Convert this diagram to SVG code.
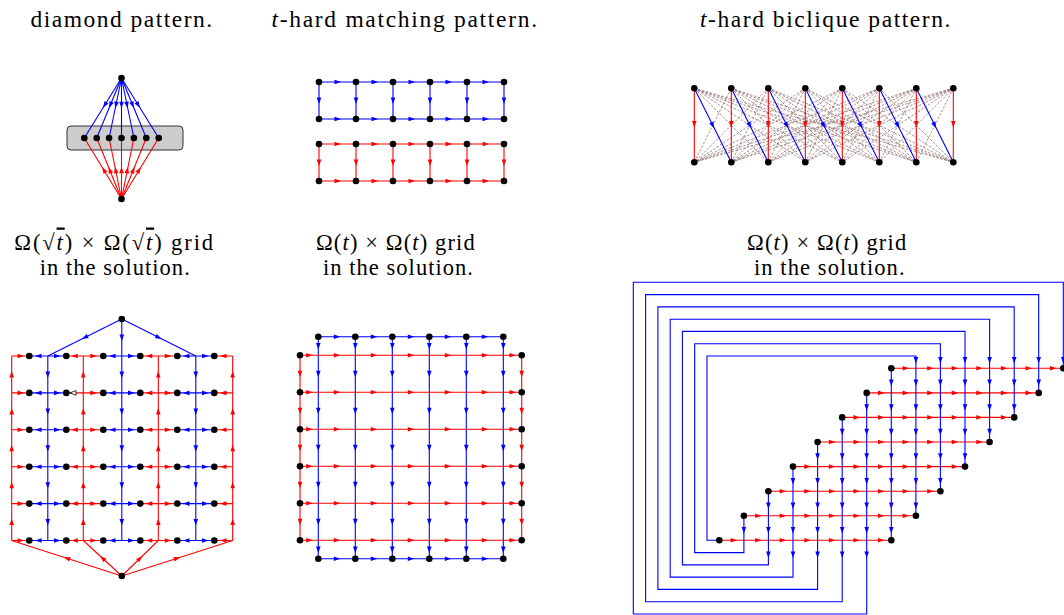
<svg xmlns="http://www.w3.org/2000/svg" width="1064" height="615" viewBox="0 0 1064 615">
<style>
.t{font-family:"Liberation Serif","Times New Roman",serif;font-size:23.5px;fill:#000}
.s{font-size:22.5px}
.i{font-style:italic}
.b{stroke:#0000ff;stroke-width:1.1;fill:none}
.r{stroke:#ff0000;stroke-width:1.1;fill:none}
.d{stroke:#86625f;stroke-opacity:.7;stroke-width:1;stroke-dasharray:2.5 1.5;fill:none}
.mb{marker-mid:url(#mb)}
.mr{marker-mid:url(#mr)}
circle{fill:#000}
</style>
<defs>
<path id="R" d="M-3,-2.3L3.5,0L-3,2.3z"/>
<path id="L" d="M3,-2.3L-3.5,0L3,2.3z"/>
<path id="D" d="M-2.3,-3L0,3.5L2.3,-3z"/>
<path id="U" d="M-2.3,3L0,-3.5L2.3,3z"/>
<marker id="mb" markerUnits="userSpaceOnUse" markerWidth="8" markerHeight="6" refX="3.3" refY="3" orient="auto" overflow="visible"><path d="M0,0.7L6.5,3L0,5.3z" fill="#00f"/></marker>
<marker id="mr" markerUnits="userSpaceOnUse" markerWidth="8" markerHeight="6" refX="3.3" refY="3" orient="auto" overflow="visible"><path d="M0,0.7L6.5,3L0,5.3z" fill="#f00"/></marker>
</defs>
<rect width="1064" height="615" fill="#fff"/>

<g id="labels">
<text class="t" x="30.5" y="27" letter-spacing="1.5">diamond pattern.</text>
<text class="t" x="271.5" y="27" letter-spacing="1.7"><tspan class="i">t</tspan>-hard matching pattern.</text>
<text class="t" x="700" y="27" letter-spacing="1.55"><tspan class="i">t</tspan>-hard biclique pattern.</text>
<text class="t s" x="14.3" y="249.5" letter-spacing="1.9">Ω(√<tspan class="i" text-decoration="overline">t</tspan>) × Ω(√<tspan class="i" text-decoration="overline">t</tspan>) grid</text>
<text class="t s" x="39.8" y="274.5" letter-spacing="1.04">in the solution.</text>
<text class="t s" x="316" y="249.5" letter-spacing="1.13">Ω(<tspan class="i">t</tspan>) × Ω(<tspan class="i">t</tspan>) grid</text>
<text class="t s" x="323" y="274.5" letter-spacing="1.04">in the solution.</text>
<text class="t s" x="747" y="249.5" letter-spacing="1.16">Ω(<tspan class="i">t</tspan>) × Ω(<tspan class="i">t</tspan>) grid</text>
<text class="t s" x="754" y="274.5" letter-spacing="1.08">in the solution.</text>
</g>

<rect id="diamond-box" x="67" y="126" width="116" height="24" rx="4" fill="#cccccc" stroke="#333" stroke-width="1"/>

<g id="connectors">
<!-- diamond -->
<g class="b mb">
<path d="M121.5 78L104.76 105L84.3 138"/>
<path d="M121.5 78L110.34 105L96.7 138"/>
<path d="M121.5 78L115.92 105L109.1 138"/>
<path d="M121.5 78L121.5 105L121.5 138"/>
<path d="M121.5 78L127.08 105L133.9 138"/>
<path d="M121.5 78L132.66 105L146.3 138"/>
<path d="M121.5 78L138.24 105L158.7 138"/>
</g>
<g class="r mr">
<path d="M121.5 199L103.83 170L84.3 138"/>
<path d="M121.5 199L109.72 170L96.7 138"/>
<path d="M121.5 199L115.61 170L109.1 138"/>
<path d="M121.5 199L121.5 170L121.5 138"/>
<path d="M121.5 199L127.39 170L133.9 138"/>
<path d="M121.5 199L133.28 170L146.3 138"/>
<path d="M121.5 199L139.17 170L158.7 138"/>
</g>

<!-- matching -->
<path class="b" d="M319 82H504M319 119H504M319 82V119M356 82V119M393 82V119M430 82V119M467 82V119M504 82V119"/>
<path class="r" d="M319 144H504M319 181H504M319 144V181M356 144V181M393 144V181M430 144V181M467 144V181M504 144V181"/>
<g fill="#00f">
<use href="#R" x="337.5" y="82"/><use href="#R" x="374.5" y="82"/><use href="#R" x="411.5" y="82"/><use href="#R" x="448.5" y="82"/><use href="#R" x="485.5" y="82"/>
<use href="#R" x="337.5" y="119"/><use href="#R" x="374.5" y="119"/><use href="#R" x="411.5" y="119"/><use href="#R" x="448.5" y="119"/><use href="#R" x="485.5" y="119"/>
<use href="#D" x="319" y="100.5"/><use href="#D" x="356" y="100.5"/><use href="#D" x="393" y="100.5"/><use href="#D" x="430" y="100.5"/><use href="#D" x="467" y="100.5"/><use href="#D" x="504" y="100.5"/>
</g>
<g fill="#f00">
<use href="#R" x="337.5" y="144"/><use href="#R" x="374.5" y="144"/><use href="#R" x="411.5" y="144"/><use href="#R" x="448.5" y="144"/><use href="#R" x="485.5" y="144"/>
<use href="#R" x="337.5" y="181"/><use href="#R" x="374.5" y="181"/><use href="#R" x="411.5" y="181"/><use href="#R" x="448.5" y="181"/><use href="#R" x="485.5" y="181"/>
<use href="#D" x="319" y="162.5"/><use href="#D" x="356" y="162.5"/><use href="#D" x="393" y="162.5"/><use href="#D" x="430" y="162.5"/><use href="#D" x="467" y="162.5"/><use href="#D" x="504" y="162.5"/>
</g>

<!-- biclique -->
<path class="d" d="M694.3 88.3L768.3 162.3M694.3 88.3L805.3 162.3M694.3 88.3L842.3 162.3M694.3 88.3L879.3 162.3M694.3 88.3L916.3 162.3M694.3 88.3L953.3 162.3M731.3 88.3L694.3 162.3M731.3 88.3L805.3 162.3M731.3 88.3L842.3 162.3M731.3 88.3L879.3 162.3M731.3 88.3L916.3 162.3M731.3 88.3L953.3 162.3M768.3 88.3L694.3 162.3M768.3 88.3L731.3 162.3M768.3 88.3L842.3 162.3M768.3 88.3L879.3 162.3M768.3 88.3L916.3 162.3M768.3 88.3L953.3 162.3M805.3 88.3L694.3 162.3M805.3 88.3L731.3 162.3M805.3 88.3L768.3 162.3M805.3 88.3L879.3 162.3M805.3 88.3L916.3 162.3M805.3 88.3L953.3 162.3M842.3 88.3L694.3 162.3M842.3 88.3L731.3 162.3M842.3 88.3L768.3 162.3M842.3 88.3L805.3 162.3M842.3 88.3L916.3 162.3M842.3 88.3L953.3 162.3M879.3 88.3L694.3 162.3M879.3 88.3L731.3 162.3M879.3 88.3L768.3 162.3M879.3 88.3L805.3 162.3M879.3 88.3L842.3 162.3M879.3 88.3L953.3 162.3M916.3 88.3L694.3 162.3M916.3 88.3L731.3 162.3M916.3 88.3L768.3 162.3M916.3 88.3L805.3 162.3M916.3 88.3L842.3 162.3M916.3 88.3L879.3 162.3M953.3 88.3L694.3 162.3M953.3 88.3L731.3 162.3M953.3 88.3L768.3 162.3M953.3 88.3L805.3 162.3M953.3 88.3L842.3 162.3M953.3 88.3L879.3 162.3M953.3 88.3L916.3 162.3"/>
<path class="r" d="M694.3 88.3V162.3M731.3 88.3V162.3M768.3 88.3V162.3M805.3 88.3V162.3M842.3 88.3V162.3M879.3 88.3V162.3M916.3 88.3V162.3M953.3 88.3V162.3"/>
<g fill="#f00">
<use href="#D" x="694.3" y="124"/><use href="#D" x="731.3" y="124"/><use href="#D" x="768.3" y="124"/><use href="#D" x="805.3" y="124"/><use href="#D" x="842.3" y="124"/><use href="#D" x="879.3" y="124"/><use href="#D" x="916.3" y="124"/><use href="#D" x="953.3" y="124"/>
</g>
<g class="b mb">
<path d="M694.3 88.3L712.8 125.3L731.3 162.3"/>
<path d="M731.3 88.3L749.8 125.3L768.3 162.3"/>
<path d="M768.3 88.3L786.8 125.3L805.3 162.3"/>
<path d="M805.3 88.3L823.8 125.3L842.3 162.3"/>
<path d="M842.3 88.3L860.8 125.3L879.3 162.3"/>
<path d="M879.3 88.3L897.8 125.3L916.3 162.3"/>
<path d="M916.3 88.3L934.8 125.3L953.3 162.3"/>
</g>

<!-- sqrt grid -->
<path class="r" d="M11.7 356V540.5M83.3 356V540.5M158.3 356V540.5M232.7 356V540.5
M11.7 356H29.3M66.3 356H103.3M140.3 356H177.3M214.3 356H232.7
M11.7 392.9H29.3M66.3 392.9H103.3M140.3 392.9H177.3M214.3 392.9H232.7
M11.7 429.8H29.3M66.3 429.8H103.3M140.3 429.8H177.3M214.3 429.8H232.7
M11.7 466.7H29.3M66.3 466.7H103.3M140.3 466.7H177.3M214.3 466.7H232.7
M11.7 503.6H29.3M66.3 503.6H103.3M140.3 503.6H177.3M214.3 503.6H232.7
M11.7 540.5H29.3M66.3 540.5H103.3M140.3 540.5H177.3M214.3 540.5H232.7"/>
<path class="b" d="M47.8 356V540.5M121.8 319V540.5M195.8 356V540.5
M29.3 356H66.3M103.3 356H140.3M177.3 356H214.3
M29.3 392.9H66.3M103.3 392.9H140.3M177.3 392.9H214.3
M29.3 429.8H66.3M103.3 429.8H140.3M177.3 429.8H214.3
M29.3 466.7H66.3M103.3 466.7H140.3M177.3 466.7H214.3
M29.3 503.6H66.3M103.3 503.6H140.3M177.3 503.6H214.3
M29.3 540.5H66.3M103.3 540.5H140.3M177.3 540.5H214.3"/>
<g class="b mb">
<path d="M121.8 319L84.8 337.5L47.8 356"/>
<path d="M121.8 319L158.8 337.5L195.8 356"/>
</g>
<g class="r mr">
<path d="M121.8 576L66.75 558.25L11.7 540.5"/>
<path d="M121.8 576L102.55 558.25L83.3 540.5"/>
<path d="M121.8 576L140.05 558.25L158.3 540.5"/>
<path d="M121.8 576L177.25 558.25L232.7 540.5"/>
</g>
<g fill="#f00">
<use href="#R" x="20.5" y="356"/><use href="#R" x="93.3" y="356"/><use href="#R" x="167.8" y="356"/><use href="#L" x="74.8" y="356"/><use href="#L" x="149.3" y="356"/><use href="#L" x="223.5" y="356"/>
<use href="#R" x="20.5" y="392.9"/><use href="#R" x="93.3" y="392.9"/><use href="#R" x="167.8" y="392.9"/><use href="#L" x="149.3" y="392.9"/><use href="#L" x="223.5" y="392.9"/>
<use href="#R" x="20.5" y="429.8"/><use href="#R" x="93.3" y="429.8"/><use href="#R" x="167.8" y="429.8"/><use href="#L" x="74.8" y="429.8"/><use href="#L" x="149.3" y="429.8"/><use href="#L" x="223.5" y="429.8"/>
<use href="#R" x="20.5" y="466.7"/><use href="#R" x="93.3" y="466.7"/><use href="#R" x="167.8" y="466.7"/><use href="#L" x="74.8" y="466.7"/><use href="#L" x="149.3" y="466.7"/><use href="#L" x="223.5" y="466.7"/>
<use href="#R" x="20.5" y="503.6"/><use href="#R" x="93.3" y="503.6"/><use href="#R" x="167.8" y="503.6"/><use href="#L" x="74.8" y="503.6"/><use href="#L" x="149.3" y="503.6"/><use href="#L" x="223.5" y="503.6"/>
<use href="#R" x="20.5" y="540.5"/><use href="#R" x="93.3" y="540.5"/><use href="#R" x="167.8" y="540.5"/><use href="#L" x="74.8" y="540.5"/><use href="#L" x="149.3" y="540.5"/><use href="#L" x="223.5" y="540.5"/>
<use href="#U" x="11.7" y="374.5"/><use href="#U" x="11.7" y="411.4"/><use href="#U" x="11.7" y="448.3"/><use href="#U" x="11.7" y="485.2"/><use href="#U" x="11.7" y="522.1"/>
<use href="#U" x="83.3" y="374.5"/><use href="#U" x="83.3" y="411.4"/><use href="#U" x="83.3" y="448.3"/><use href="#U" x="83.3" y="485.2"/><use href="#U" x="83.3" y="522.1"/>
<use href="#U" x="158.3" y="374.5"/><use href="#U" x="158.3" y="411.4"/><use href="#U" x="158.3" y="448.3"/><use href="#U" x="158.3" y="485.2"/><use href="#U" x="158.3" y="522.1"/>
<use href="#U" x="232.7" y="374.5"/><use href="#U" x="232.7" y="411.4"/><use href="#U" x="232.7" y="448.3"/><use href="#U" x="232.7" y="485.2"/><use href="#U" x="232.7" y="522.1"/>
</g>
<path d="M76 390.6L70 392.9L76 395.2z" fill="#fff" stroke="#000" stroke-width="0.8"/>
<g fill="#00f">
<use href="#L" x="38.5" y="356"/><use href="#L" x="112.5" y="356"/><use href="#L" x="186.5" y="356"/><use href="#R" x="57" y="356"/><use href="#R" x="131" y="356"/><use href="#R" x="205" y="356"/>
<use href="#L" x="38.5" y="392.9"/><use href="#L" x="112.5" y="392.9"/><use href="#L" x="186.5" y="392.9"/><use href="#R" x="57" y="392.9"/><use href="#R" x="131" y="392.9"/><use href="#R" x="205" y="392.9"/>
<use href="#L" x="38.5" y="429.8"/><use href="#L" x="112.5" y="429.8"/><use href="#L" x="186.5" y="429.8"/><use href="#R" x="57" y="429.8"/><use href="#R" x="131" y="429.8"/><use href="#R" x="205" y="429.8"/>
<use href="#L" x="38.5" y="466.7"/><use href="#L" x="112.5" y="466.7"/><use href="#L" x="186.5" y="466.7"/><use href="#R" x="57" y="466.7"/><use href="#R" x="131" y="466.7"/><use href="#R" x="205" y="466.7"/>
<use href="#L" x="38.5" y="503.6"/><use href="#L" x="112.5" y="503.6"/><use href="#L" x="186.5" y="503.6"/><use href="#R" x="57" y="503.6"/><use href="#R" x="131" y="503.6"/><use href="#R" x="205" y="503.6"/>
<use href="#L" x="38.5" y="540.5"/><use href="#L" x="112.5" y="540.5"/><use href="#L" x="186.5" y="540.5"/><use href="#R" x="57" y="540.5"/><use href="#R" x="131" y="540.5"/><use href="#R" x="205" y="540.5"/>
<use href="#D" x="121.8" y="337.5"/>
<use href="#D" x="47.8" y="374.5"/><use href="#D" x="47.8" y="411.4"/><use href="#D" x="47.8" y="448.3"/><use href="#D" x="47.8" y="485.2"/><use href="#D" x="47.8" y="522.1"/>
<use href="#D" x="121.8" y="374.5"/><use href="#D" x="121.8" y="411.4"/><use href="#D" x="121.8" y="448.3"/><use href="#D" x="121.8" y="485.2"/><use href="#D" x="121.8" y="522.1"/>
<use href="#D" x="195.8" y="374.5"/><use href="#D" x="195.8" y="411.4"/><use href="#D" x="195.8" y="448.3"/><use href="#D" x="195.8" y="485.2"/><use href="#D" x="195.8" y="522.1"/>
</g>

<!-- t grid -->
<path class="b" d="M318.3 336.7H503.3M318.3 558.7H503.3M318.3 336.7V558.7M355.3 336.7V558.7M392.3 336.7V558.7M429.3 336.7V558.7M466.3 336.7V558.7M503.3 336.7V558.7"/>
<path class="r" d="M300 355.3H521.7M300 392.3H521.7M300 429.3H521.7M300 466.3H521.7M300 503.3H521.7M300 540.3H521.7M300 355.3V540.3M521.7 355.3V540.3"/>
<g fill="#00f">
<use href="#R" x="336.8" y="336.7"/><use href="#R" x="373.8" y="336.7"/><use href="#R" x="410.8" y="336.7"/><use href="#R" x="447.8" y="336.7"/><use href="#R" x="484.8" y="336.7"/>
<use href="#R" x="336.8" y="558.7"/><use href="#R" x="373.8" y="558.7"/><use href="#R" x="410.8" y="558.7"/><use href="#R" x="447.8" y="558.7"/><use href="#R" x="484.8" y="558.7"/>
<use href="#D" x="318.3" y="346"/><use href="#D" x="318.3" y="373.8"/><use href="#D" x="318.3" y="410.8"/><use href="#D" x="318.3" y="447.8"/><use href="#D" x="318.3" y="484.8"/><use href="#D" x="318.3" y="521.8"/><use href="#D" x="318.3" y="549.5"/>
<use href="#D" x="355.3" y="346"/><use href="#D" x="355.3" y="373.8"/><use href="#D" x="355.3" y="410.8"/><use href="#D" x="355.3" y="447.8"/><use href="#D" x="355.3" y="484.8"/><use href="#D" x="355.3" y="521.8"/><use href="#D" x="355.3" y="549.5"/>
<use href="#D" x="392.3" y="346"/><use href="#D" x="392.3" y="373.8"/><use href="#D" x="392.3" y="410.8"/><use href="#D" x="392.3" y="447.8"/><use href="#D" x="392.3" y="484.8"/><use href="#D" x="392.3" y="521.8"/><use href="#D" x="392.3" y="549.5"/>
<use href="#D" x="429.3" y="346"/><use href="#D" x="429.3" y="373.8"/><use href="#D" x="429.3" y="410.8"/><use href="#D" x="429.3" y="447.8"/><use href="#D" x="429.3" y="484.8"/><use href="#D" x="429.3" y="521.8"/><use href="#D" x="429.3" y="549.5"/>
<use href="#D" x="466.3" y="346"/><use href="#D" x="466.3" y="373.8"/><use href="#D" x="466.3" y="410.8"/><use href="#D" x="466.3" y="447.8"/><use href="#D" x="466.3" y="484.8"/><use href="#D" x="466.3" y="521.8"/><use href="#D" x="466.3" y="549.5"/>
<use href="#D" x="503.3" y="346"/><use href="#D" x="503.3" y="373.8"/><use href="#D" x="503.3" y="410.8"/><use href="#D" x="503.3" y="447.8"/><use href="#D" x="503.3" y="484.8"/><use href="#D" x="503.3" y="521.8"/><use href="#D" x="503.3" y="549.5"/>
</g>
<g fill="#f00">
<use href="#R" x="309.2" y="355.3"/><use href="#R" x="336.8" y="355.3"/><use href="#R" x="373.8" y="355.3"/><use href="#R" x="410.8" y="355.3"/><use href="#R" x="447.8" y="355.3"/><use href="#R" x="484.8" y="355.3"/><use href="#R" x="512.5" y="355.3"/>
<use href="#R" x="309.2" y="392.3"/><use href="#R" x="336.8" y="392.3"/><use href="#R" x="373.8" y="392.3"/><use href="#R" x="410.8" y="392.3"/><use href="#R" x="447.8" y="392.3"/><use href="#R" x="484.8" y="392.3"/><use href="#R" x="512.5" y="392.3"/>
<use href="#R" x="309.2" y="429.3"/><use href="#R" x="336.8" y="429.3"/><use href="#R" x="373.8" y="429.3"/><use href="#R" x="410.8" y="429.3"/><use href="#R" x="447.8" y="429.3"/><use href="#R" x="484.8" y="429.3"/><use href="#R" x="512.5" y="429.3"/>
<use href="#R" x="309.2" y="466.3"/><use href="#R" x="336.8" y="466.3"/><use href="#R" x="373.8" y="466.3"/><use href="#R" x="410.8" y="466.3"/><use href="#R" x="447.8" y="466.3"/><use href="#R" x="484.8" y="466.3"/><use href="#R" x="512.5" y="466.3"/>
<use href="#R" x="309.2" y="503.3"/><use href="#R" x="336.8" y="503.3"/><use href="#R" x="373.8" y="503.3"/><use href="#R" x="410.8" y="503.3"/><use href="#R" x="447.8" y="503.3"/><use href="#R" x="484.8" y="503.3"/><use href="#R" x="512.5" y="503.3"/>
<use href="#R" x="309.2" y="540.3"/><use href="#R" x="336.8" y="540.3"/><use href="#R" x="373.8" y="540.3"/><use href="#R" x="410.8" y="540.3"/><use href="#R" x="447.8" y="540.3"/><use href="#R" x="484.8" y="540.3"/><use href="#R" x="512.5" y="540.3"/>
<use href="#D" x="300" y="373.8"/><use href="#D" x="300" y="410.8"/><use href="#D" x="300" y="447.8"/><use href="#D" x="300" y="484.8"/><use href="#D" x="300" y="521.8"/>
<use href="#D" x="521.7" y="373.8"/><use href="#D" x="521.7" y="410.8"/><use href="#D" x="521.7" y="447.8"/><use href="#D" x="521.7" y="484.8"/><use href="#D" x="521.7" y="521.8"/>
</g>

<!-- staircase -->
<path class="r" d="M891.3 368.3H1063.3M866.7 392.9H1038.7M842.2 417.4H1014.2M817.6 442H989.6M793 466.6H965M768.4 491.2H940.4M743.9 515.7H915.9M719.3 540.3H891.3"/>
<g class="b">
<path d="M719.3 540.3H707V356H915.9V515.7"/>
<path d="M743.9 515.7V552.6H694.7V343.7H940.4V491.2"/>
<path d="M768.4 491.2V564.9H682.4V331.4H965V466.6"/>
<path d="M793 466.6V577.1H670.2V319.2H989.6V442"/>
<path d="M817.6 442V589.4H657.9V306.9H1014.2V417.4"/>
<path d="M842.2 417.4V601.7H645.6V294.6H1038.7V392.9"/>
<path d="M866.7 392.9V614H633.3V282.3H1063.3V368.3"/>
<path d="M891.3 368.3V540.3"/>
</g>
<g fill="#f00">
<use href="#R" x="905.6" y="368.3"/><use href="#R" x="930.2" y="368.3"/><use href="#R" x="954.7" y="368.3"/><use href="#R" x="979.3" y="368.3"/><use href="#R" x="1003.9" y="368.3"/><use href="#R" x="1028.5" y="368.3"/><use href="#R" x="1053" y="368.3"/>
<use href="#R" x="881" y="392.9"/><use href="#R" x="905.6" y="392.9"/><use href="#R" x="930.2" y="392.9"/><use href="#R" x="954.7" y="392.9"/><use href="#R" x="979.3" y="392.9"/><use href="#R" x="1003.9" y="392.9"/><use href="#R" x="1028.5" y="392.9"/>
<use href="#R" x="856.5" y="417.4"/><use href="#R" x="881" y="417.4"/><use href="#R" x="905.6" y="417.4"/><use href="#R" x="930.2" y="417.4"/><use href="#R" x="954.7" y="417.4"/><use href="#R" x="979.3" y="417.4"/><use href="#R" x="1003.9" y="417.4"/>
<use href="#R" x="831.9" y="442"/><use href="#R" x="856.5" y="442"/><use href="#R" x="881" y="442"/><use href="#R" x="905.6" y="442"/><use href="#R" x="930.2" y="442"/><use href="#R" x="954.7" y="442"/><use href="#R" x="979.3" y="442"/>
<use href="#R" x="807.3" y="466.6"/><use href="#R" x="831.9" y="466.6"/><use href="#R" x="856.5" y="466.6"/><use href="#R" x="881" y="466.6"/><use href="#R" x="905.6" y="466.6"/><use href="#R" x="930.2" y="466.6"/><use href="#R" x="954.7" y="466.6"/>
<use href="#R" x="782.7" y="491.2"/><use href="#R" x="807.3" y="491.2"/><use href="#R" x="831.9" y="491.2"/><use href="#R" x="856.5" y="491.2"/><use href="#R" x="881" y="491.2"/><use href="#R" x="905.6" y="491.2"/><use href="#R" x="930.2" y="491.2"/>
<use href="#R" x="758.1" y="515.7"/><use href="#R" x="782.7" y="515.7"/><use href="#R" x="807.3" y="515.7"/><use href="#R" x="831.9" y="515.7"/><use href="#R" x="856.5" y="515.7"/><use href="#R" x="881" y="515.7"/><use href="#R" x="905.6" y="515.7"/>
<use href="#R" x="733.6" y="540.3"/><use href="#R" x="758.1" y="540.3"/><use href="#R" x="782.7" y="540.3"/><use href="#R" x="807.3" y="540.3"/><use href="#R" x="831.9" y="540.3"/><use href="#R" x="856.5" y="540.3"/><use href="#R" x="881" y="540.3"/>
</g>
<g fill="#00f">
<use href="#D" x="743.9" y="530"/>
<use href="#D" x="768.4" y="505.5"/><use href="#D" x="768.4" y="530"/><use href="#D" x="768.4" y="554.6"/>
<use href="#D" x="793" y="480.9"/><use href="#D" x="793" y="505.5"/><use href="#D" x="793" y="530"/><use href="#D" x="793" y="554.6"/>
<use href="#D" x="817.6" y="456.3"/><use href="#D" x="817.6" y="480.9"/><use href="#D" x="817.6" y="505.5"/><use href="#D" x="817.6" y="530"/><use href="#D" x="817.6" y="554.6"/>
<use href="#D" x="842.2" y="431.7"/><use href="#D" x="842.2" y="456.3"/><use href="#D" x="842.2" y="480.9"/><use href="#D" x="842.2" y="505.5"/><use href="#D" x="842.2" y="530"/><use href="#D" x="842.2" y="554.6"/>
<use href="#D" x="866.7" y="407.2"/><use href="#D" x="866.7" y="431.7"/><use href="#D" x="866.7" y="456.3"/><use href="#D" x="866.7" y="480.9"/><use href="#D" x="866.7" y="505.5"/><use href="#D" x="866.7" y="530"/><use href="#D" x="866.7" y="554.6"/>
<use href="#D" x="891.3" y="382.6"/><use href="#D" x="891.3" y="407.2"/><use href="#D" x="891.3" y="431.7"/><use href="#D" x="891.3" y="456.3"/><use href="#D" x="891.3" y="480.9"/><use href="#D" x="891.3" y="505.5"/><use href="#D" x="891.3" y="530"/>
<use href="#D" x="915.9" y="360"/><use href="#D" x="915.9" y="382.6"/><use href="#D" x="915.9" y="407.2"/><use href="#D" x="915.9" y="431.7"/><use href="#D" x="915.9" y="456.3"/><use href="#D" x="915.9" y="480.9"/><use href="#D" x="915.9" y="505.5"/>
<use href="#D" x="940.4" y="360"/><use href="#D" x="940.4" y="382.6"/><use href="#D" x="940.4" y="407.2"/><use href="#D" x="940.4" y="431.7"/><use href="#D" x="940.4" y="456.3"/><use href="#D" x="940.4" y="480.9"/>
<use href="#D" x="965" y="360"/><use href="#D" x="965" y="382.6"/><use href="#D" x="965" y="407.2"/><use href="#D" x="965" y="431.7"/><use href="#D" x="965" y="456.3"/>
<use href="#D" x="989.6" y="360"/><use href="#D" x="989.6" y="382.6"/><use href="#D" x="989.6" y="407.2"/><use href="#D" x="989.6" y="431.7"/>
<use href="#D" x="1014.2" y="360"/><use href="#D" x="1014.2" y="382.6"/><use href="#D" x="1014.2" y="407.2"/>
<use href="#D" x="1038.7" y="360"/><use href="#D" x="1038.7" y="382.6"/>
<use href="#D" x="1063.3" y="360"/>
</g>
</g>

<g id="nodes">
<g id="dia-top"><circle cx="121.5" cy="78" r="3.3"/></g>
<g id="dia-m1"><circle cx="84.3" cy="138" r="3.3"/></g>
<g id="dia-m2"><circle cx="96.7" cy="138" r="3.3"/></g>
<g id="dia-m3"><circle cx="109.1" cy="138" r="3.3"/></g>
<g id="dia-m4"><circle cx="121.5" cy="138" r="3.3"/></g>
<g id="dia-m5"><circle cx="133.9" cy="138" r="3.3"/></g>
<g id="dia-m6"><circle cx="146.3" cy="138" r="3.3"/></g>
<g id="dia-m7"><circle cx="158.7" cy="138" r="3.3"/></g>
<g id="dia-bot"><circle cx="121.5" cy="199" r="3.3"/></g>

<g id="mat-a1"><circle cx="319" cy="82" r="3.3"/></g><g id="mat-a2"><circle cx="356" cy="82" r="3.3"/></g><g id="mat-a3"><circle cx="393" cy="82" r="3.3"/></g><g id="mat-a4"><circle cx="430" cy="82" r="3.3"/></g><g id="mat-a5"><circle cx="467" cy="82" r="3.3"/></g><g id="mat-a6"><circle cx="504" cy="82" r="3.3"/></g>
<g id="mat-b1"><circle cx="319" cy="119" r="3.3"/></g><g id="mat-b2"><circle cx="356" cy="119" r="3.3"/></g><g id="mat-b3"><circle cx="393" cy="119" r="3.3"/></g><g id="mat-b4"><circle cx="430" cy="119" r="3.3"/></g><g id="mat-b5"><circle cx="467" cy="119" r="3.3"/></g><g id="mat-b6"><circle cx="504" cy="119" r="3.3"/></g>
<g id="mat-c1"><circle cx="319" cy="144" r="3.3"/></g><g id="mat-c2"><circle cx="356" cy="144" r="3.3"/></g><g id="mat-c3"><circle cx="393" cy="144" r="3.3"/></g><g id="mat-c4"><circle cx="430" cy="144" r="3.3"/></g><g id="mat-c5"><circle cx="467" cy="144" r="3.3"/></g><g id="mat-c6"><circle cx="504" cy="144" r="3.3"/></g>
<g id="mat-d1"><circle cx="319" cy="181" r="3.3"/></g><g id="mat-d2"><circle cx="356" cy="181" r="3.3"/></g><g id="mat-d3"><circle cx="393" cy="181" r="3.3"/></g><g id="mat-d4"><circle cx="430" cy="181" r="3.3"/></g><g id="mat-d5"><circle cx="467" cy="181" r="3.3"/></g><g id="mat-d6"><circle cx="504" cy="181" r="3.3"/></g>

<g id="bic-t1"><circle cx="694.3" cy="88.3" r="3.3"/></g><g id="bic-t2"><circle cx="731.3" cy="88.3" r="3.3"/></g><g id="bic-t3"><circle cx="768.3" cy="88.3" r="3.3"/></g><g id="bic-t4"><circle cx="805.3" cy="88.3" r="3.3"/></g><g id="bic-t5"><circle cx="842.3" cy="88.3" r="3.3"/></g><g id="bic-t6"><circle cx="879.3" cy="88.3" r="3.3"/></g><g id="bic-t7"><circle cx="916.3" cy="88.3" r="3.3"/></g><g id="bic-t8"><circle cx="953.3" cy="88.3" r="3.3"/></g>
<g id="bic-b1"><circle cx="694.3" cy="162.3" r="3.3"/></g><g id="bic-b2"><circle cx="731.3" cy="162.3" r="3.3"/></g><g id="bic-b3"><circle cx="768.3" cy="162.3" r="3.3"/></g><g id="bic-b4"><circle cx="805.3" cy="162.3" r="3.3"/></g><g id="bic-b5"><circle cx="842.3" cy="162.3" r="3.3"/></g><g id="bic-b6"><circle cx="879.3" cy="162.3" r="3.3"/></g><g id="bic-b7"><circle cx="916.3" cy="162.3" r="3.3"/></g><g id="bic-b8"><circle cx="953.3" cy="162.3" r="3.3"/></g>

<g id="sq-top"><circle cx="121.8" cy="319" r="3.3"/></g>
<g id="sq-bot"><circle cx="121.8" cy="576" r="3.3"/></g>
<g id="sq-1-1"><circle cx="29.3" cy="356" r="3.3"/></g><g id="sq-1-2"><circle cx="66.3" cy="356" r="3.3"/></g><g id="sq-1-3"><circle cx="103.3" cy="356" r="3.3"/></g><g id="sq-1-4"><circle cx="140.3" cy="356" r="3.3"/></g><g id="sq-1-5"><circle cx="177.3" cy="356" r="3.3"/></g><g id="sq-1-6"><circle cx="214.3" cy="356" r="3.3"/></g>
<g id="sq-2-1"><circle cx="29.3" cy="392.9" r="3.3"/></g><g id="sq-2-2"><circle cx="66.3" cy="392.9" r="3.3"/></g><g id="sq-2-3"><circle cx="103.3" cy="392.9" r="3.3"/></g><g id="sq-2-4"><circle cx="140.3" cy="392.9" r="3.3"/></g><g id="sq-2-5"><circle cx="177.3" cy="392.9" r="3.3"/></g><g id="sq-2-6"><circle cx="214.3" cy="392.9" r="3.3"/></g>
<g id="sq-3-1"><circle cx="29.3" cy="429.8" r="3.3"/></g><g id="sq-3-2"><circle cx="66.3" cy="429.8" r="3.3"/></g><g id="sq-3-3"><circle cx="103.3" cy="429.8" r="3.3"/></g><g id="sq-3-4"><circle cx="140.3" cy="429.8" r="3.3"/></g><g id="sq-3-5"><circle cx="177.3" cy="429.8" r="3.3"/></g><g id="sq-3-6"><circle cx="214.3" cy="429.8" r="3.3"/></g>
<g id="sq-4-1"><circle cx="29.3" cy="466.7" r="3.3"/></g><g id="sq-4-2"><circle cx="66.3" cy="466.7" r="3.3"/></g><g id="sq-4-3"><circle cx="103.3" cy="466.7" r="3.3"/></g><g id="sq-4-4"><circle cx="140.3" cy="466.7" r="3.3"/></g><g id="sq-4-5"><circle cx="177.3" cy="466.7" r="3.3"/></g><g id="sq-4-6"><circle cx="214.3" cy="466.7" r="3.3"/></g>
<g id="sq-5-1"><circle cx="29.3" cy="503.6" r="3.3"/></g><g id="sq-5-2"><circle cx="66.3" cy="503.6" r="3.3"/></g><g id="sq-5-3"><circle cx="103.3" cy="503.6" r="3.3"/></g><g id="sq-5-4"><circle cx="140.3" cy="503.6" r="3.3"/></g><g id="sq-5-5"><circle cx="177.3" cy="503.6" r="3.3"/></g><g id="sq-5-6"><circle cx="214.3" cy="503.6" r="3.3"/></g>
<g id="sq-6-1"><circle cx="29.3" cy="540.5" r="3.3"/></g><g id="sq-6-2"><circle cx="66.3" cy="540.5" r="3.3"/></g><g id="sq-6-3"><circle cx="103.3" cy="540.5" r="3.3"/></g><g id="sq-6-4"><circle cx="140.3" cy="540.5" r="3.3"/></g><g id="sq-6-5"><circle cx="177.3" cy="540.5" r="3.3"/></g><g id="sq-6-6"><circle cx="214.3" cy="540.5" r="3.3"/></g>

<g id="tg-t1"><circle cx="318.3" cy="336.7" r="3.3"/></g><g id="tg-t2"><circle cx="355.3" cy="336.7" r="3.3"/></g><g id="tg-t3"><circle cx="392.3" cy="336.7" r="3.3"/></g><g id="tg-t4"><circle cx="429.3" cy="336.7" r="3.3"/></g><g id="tg-t5"><circle cx="466.3" cy="336.7" r="3.3"/></g><g id="tg-t6"><circle cx="503.3" cy="336.7" r="3.3"/></g>
<g id="tg-b1"><circle cx="318.3" cy="558.7" r="3.3"/></g><g id="tg-b2"><circle cx="355.3" cy="558.7" r="3.3"/></g><g id="tg-b3"><circle cx="392.3" cy="558.7" r="3.3"/></g><g id="tg-b4"><circle cx="429.3" cy="558.7" r="3.3"/></g><g id="tg-b5"><circle cx="466.3" cy="558.7" r="3.3"/></g><g id="tg-b6"><circle cx="503.3" cy="558.7" r="3.3"/></g>
<g id="tg-l1"><circle cx="300" cy="355.3" r="3.3"/></g><g id="tg-l2"><circle cx="300" cy="392.3" r="3.3"/></g><g id="tg-l3"><circle cx="300" cy="429.3" r="3.3"/></g><g id="tg-l4"><circle cx="300" cy="466.3" r="3.3"/></g><g id="tg-l5"><circle cx="300" cy="503.3" r="3.3"/></g><g id="tg-l6"><circle cx="300" cy="540.3" r="3.3"/></g>
<g id="tg-r1"><circle cx="521.7" cy="355.3" r="3.3"/></g><g id="tg-r2"><circle cx="521.7" cy="392.3" r="3.3"/></g><g id="tg-r3"><circle cx="521.7" cy="429.3" r="3.3"/></g><g id="tg-r4"><circle cx="521.7" cy="466.3" r="3.3"/></g><g id="tg-r5"><circle cx="521.7" cy="503.3" r="3.3"/></g><g id="tg-r6"><circle cx="521.7" cy="540.3" r="3.3"/></g>

<g id="st-l0"><circle cx="891.3" cy="368.3" r="3.3"/></g><g id="st-l1"><circle cx="866.7" cy="392.9" r="3.3"/></g><g id="st-l2"><circle cx="842.2" cy="417.4" r="3.3"/></g><g id="st-l3"><circle cx="817.6" cy="442" r="3.3"/></g><g id="st-l4"><circle cx="793" cy="466.6" r="3.3"/></g><g id="st-l5"><circle cx="768.4" cy="491.2" r="3.3"/></g><g id="st-l6"><circle cx="743.9" cy="515.7" r="3.3"/></g><g id="st-l7"><circle cx="719.3" cy="540.3" r="3.3"/></g>
<g id="st-r0"><circle cx="1063.3" cy="368.3" r="3.3"/></g><g id="st-r1"><circle cx="1038.7" cy="392.9" r="3.3"/></g><g id="st-r2"><circle cx="1014.2" cy="417.4" r="3.3"/></g><g id="st-r3"><circle cx="989.6" cy="442" r="3.3"/></g><g id="st-r4"><circle cx="965" cy="466.6" r="3.3"/></g><g id="st-r5"><circle cx="940.4" cy="491.2" r="3.3"/></g><g id="st-r6"><circle cx="915.9" cy="515.7" r="3.3"/></g><g id="st-r7"><circle cx="891.3" cy="540.3" r="3.3"/></g>
</g>
</svg>
